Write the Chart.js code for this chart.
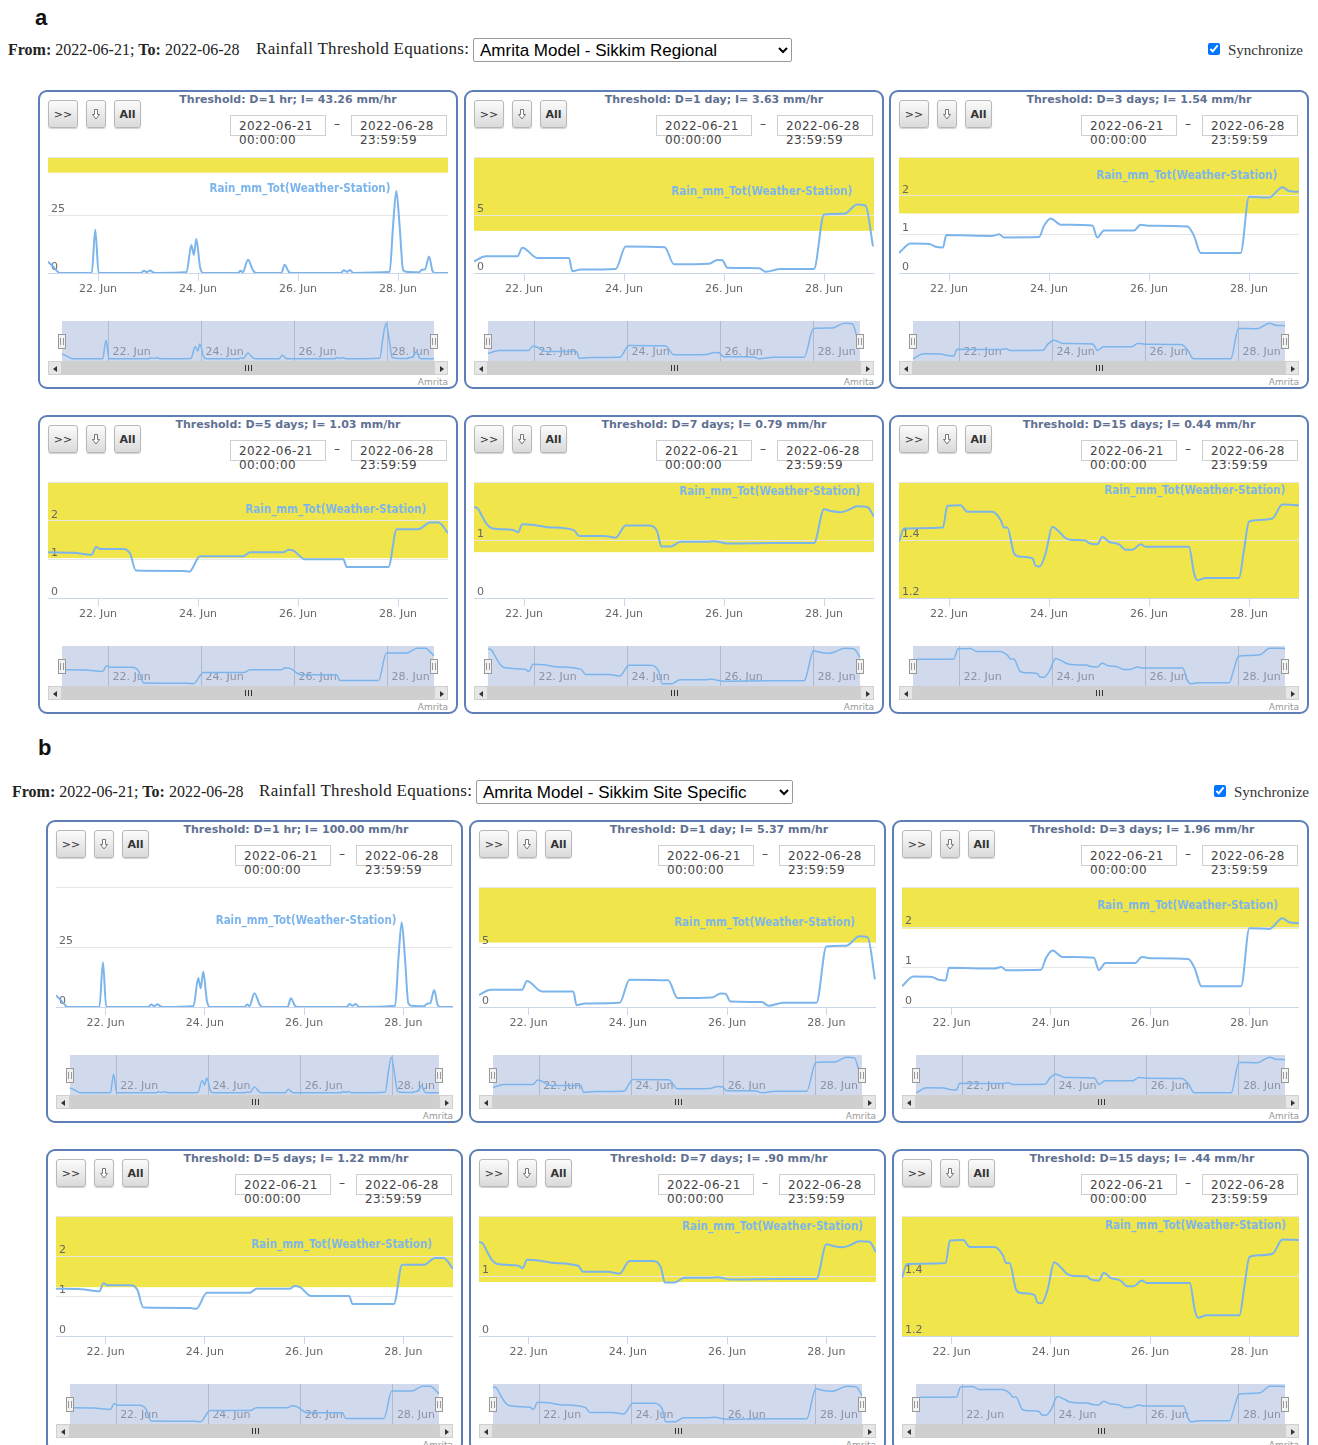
<!DOCTYPE html>
<html>
<head>
<meta charset="utf-8">
<title>Rainfall thresholds</title>
<script src="https://cdn.jsdelivr.net/npm/chart.js@4.4.1/dist/chart.umd.min.js"></script>
<style>
  html, body { margin: 0; padding: 0; background: #fff; }
  body { width: 1318px; height: 1445px; position: relative; overflow: hidden; font-family: "DejaVu Sans", sans-serif; }
  .plabel { position: absolute; font: bold 22px "Liberation Sans", Arial, sans-serif; line-height: 22px; color: #111; }
  .hdr { position: absolute; font: 16px "Liberation Serif", "Times New Roman", serif; line-height: 20px; color: #222; white-space: nowrap; }
  .hdr b { font-weight: bold; }
  .hdr.eqt { font-size: 17px; letter-spacing: 0.3px; }
  select.eq { position: absolute; height: 24px; font: 17px "Liberation Sans", Arial, sans-serif; color: #000; margin: 0; padding: 0 2px; border: 1px solid #9a9a9a; border-radius: 2px; background: #fff; }
  input.sync { position: absolute; margin: 0; width: 12px; height: 12px; }
  .tile { position: absolute; }
  .frame { position: absolute; inset: 0; border: 2px solid #5d7eb6; border-radius: 9px; box-sizing: border-box; }
  .btn { position: absolute; top: 10px; height: 28px; box-sizing: border-box; border: 1px solid #b8b8b8; border-radius: 3px;
         background: linear-gradient(#fbfbfb, #dadada); box-shadow: 0 1px 1px rgba(0,0,0,.18);
         font: 11px "DejaVu Sans", sans-serif; color: #333; display: flex; align-items: center; justify-content: center; }
  .btn.b { font-weight: bold; }
  .title { position: absolute; top: 3px; transform: translateX(-50%); white-space: nowrap; font: bold 11px "DejaVu Sans", sans-serif; line-height: 14px; color: #5f7192; }
  .dbox { position: absolute; top: 25px; width: 96px; height: 21px; box-sizing: border-box; border: 1px solid #cfcfcf; }
  .dbox span { position: absolute; left: 8px; top: 3px; font: 12px "DejaVu Sans", sans-serif; line-height: 14px; color: #444; white-space: pre; letter-spacing: 0.4px; }
  .dash { position: absolute; top: 27px; font: 12px "DejaVu Sans", sans-serif; color: #444; }
  canvas { position: absolute; }
  .sb { position: absolute; height: 14px; background: #efefef; }
  .sb .arr { position: absolute; top: 0; width: 14px; height: 14px; background: #e6e6e6; box-sizing: border-box; border: 1px solid #d0d0d0; }
  .sb .arr i { position: absolute; top: 4px; width: 0; height: 0; border-top: 3px solid transparent; border-bottom: 3px solid transparent; }
  .sb .arr.l i { left: 4px; border-right: 4px solid #333; }
  .sb .arr.r i { left: 5px; border-left: 4px solid #333; }
  .sb .thumb { position: absolute; top: 0; height: 14px; background: #cfcfcf; }
  .sb .thumb i { position: absolute; top: 4px; width: 1px; height: 6px; background: #333; }
  .credit { position: absolute; font: 9px "DejaVu Sans", sans-serif; line-height: 10px; color: #999; }
</style>
</head>
<body>
<script>
// Timeline: x values are hours after 2022-06-21 00:00, through 2022-06-29 00:00.
const dayTickHours = [24, 72, 120, 168];
const dayTickLabels = ['22. Jun', '24. Jun', '26. Jun', '28. Jun'];

const durations = ['1 hr', '1 day', '3 days', '5 days', '7 days', '15 days'];
const regionalIntensity = ['43.26', '3.63', '1.54', '1.03', '0.79', '0.44'];
const siteIntensity = ['100.00', '5.37', '1.96', '1.22', '.90', '.44'];

const yMin = [0, 0, 0, 0, 0, 1.2];
const yMax = [50, 10, 3, 3, 2, 1.6];
const yStep = [25, 5, 1, 1, 1, 0.2];

// Rain_mm_Tot(Weather-Station) aggregated over each duration (mm/hr)
const hours1h = [0, 2, 4, 5.5, 21, 22.7, 24.3, 44.5, 46, 47.5, 49, 50.5, 52, 66.5, 68.8, 70, 71.2, 73, 74.5, 91, 92.5, 93.5, 96, 98.5, 100, 112, 113.6, 115.5, 117, 140.5, 142, 143.5, 145, 146.5, 164, 165.6, 167.2, 168.8, 170.4, 172, 178, 179.5, 181, 182.9, 184.6, 186, 192];
const rain1h = [4.8, 3.2, 1.2, 0, 0, 18.6, 0, 0, 1.0, 0.4, 1.1, 0.3, 0, 0.4, 12.1, 7.8, 14.7, 2.5, 0, 0, 1.0, 0.3, 5.7, 1.0, 0, 0, 3.6, 0.6, 0, 0, 1.2, 0.5, 1.3, 0, 0.5, 20, 35.3, 20, 1.5, 0.5, 0.3, 1.4, 1.6, 7.1, 0.8, 0, 0];

const hours1d = [0, 5.6, 20.8, 23.2, 30.4, 45.6, 47.2, 51.2, 68, 72.8, 91.5, 96, 112.8, 116.8, 119.2, 121.6, 136.8, 140, 147.2, 163.2, 168, 177.6, 184, 188, 191.5];
const rain1d = [1.0, 1.44, 1.44, 2.17, 1.3, 1.3, 0.15, 0.3, 0.35, 2.28, 2.22, 0.75, 0.8, 1.12, 1.1, 0.45, 0.42, 0.1, 0.35, 0.35, 5.05, 5.1, 5.9, 5.8, 2.3];

const hours3d = [0, 5.6, 14.4, 17.6, 21.1, 22.7, 44.8, 48, 50.4, 67.2, 69.6, 72.8, 77.6, 92.8, 95.2, 98.4, 112.8, 116, 120, 138.4, 141.6, 144.8, 164, 168, 177.6, 184, 187.2, 192];
const rain3d = [0.52, 0.76, 0.75, 0.68, 0.66, 0.98, 0.96, 1.0, 0.92, 0.93, 1.22, 1.41, 1.25, 1.23, 0.92, 1.1, 1.1, 1.25, 1.22, 1.2, 0.96, 0.52, 0.52, 1.97, 1.95, 2.22, 2.12, 2.1];

const hours5d = [0, 12.2, 21, 23, 24.9, 36.2, 39.4, 42.2, 65, 67.8, 73, 93.8, 97, 113, 115.4, 118, 123.4, 141.8, 143.4, 163.4, 167.4, 177.8, 183.4, 187.4, 192];
const rain5d = [1.18, 1.17, 1.12, 1.32, 1.27, 1.27, 1.15, 0.71, 0.7, 0.68, 1.08, 1.08, 1.18, 1.18, 1.25, 1.22, 1.0, 1.0, 0.8, 0.8, 1.78, 1.78, 1.95, 1.95, 1.68];

const hours7d = [0, 1.9, 4, 6.4, 8.8, 19.2, 21.1, 23.2, 28.8, 35.2, 48, 50.4, 62.4, 68, 72.8, 84, 88, 89.9, 94.4, 99.2, 112, 115.2, 121.6, 144, 163.2, 168, 171.2, 176, 179.2, 184, 188.8, 192];
const rain7d = [1.57, 1.54, 1.40, 1.26, 1.2, 1.17, 1.13, 1.27, 1.26, 1.22, 1.17, 1.07, 1.07, 1.04, 1.25, 1.25, 1.14, 0.89, 0.89, 0.97, 0.97, 0.98, 0.94, 0.95, 0.95, 1.53, 1.50, 1.48, 1.51, 1.58, 1.57, 1.40];

const hours15d = [0, 2.4, 21.1, 23.2, 29.6, 32.8, 44.8, 48.8, 50.4, 52, 55.2, 57.6, 64, 65.6, 67.5, 70.4, 73.6, 76.8, 80, 83.2, 89.6, 91.2, 95.2, 97.6, 100.8, 105.6, 108.8, 112, 116, 118.4, 139.2, 141.6, 143.2, 147.2, 163.2, 165.6, 168, 172.8, 179.2, 184, 192];
const rain15d = [1.394, 1.44, 1.443, 1.518, 1.52, 1.497, 1.497, 1.469, 1.443, 1.443, 1.354, 1.343, 1.337, 1.311, 1.309, 1.354, 1.446, 1.429, 1.406, 1.4, 1.398, 1.389, 1.385, 1.411, 1.394, 1.385, 1.366, 1.366, 1.385, 1.377, 1.377, 1.286, 1.261, 1.269, 1.269, 1.366, 1.463, 1.469, 1.474, 1.522, 1.52];

const seriesHours = [hours1h, hours1d, hours3d, hours5d, hours7d, hours15d];
const seriesRain = [rain1h, rain1d, rain3d, rain5d, rain7d, rain15d];

const SERIES_NAME = 'Rain_mm_Tot(Weather-Station)';
const LINE = '#7cb5ec';
const BAND = '#f1e54c';
const RANGE_END = 192;

// where each chart's series name sits, as a fraction of its plot area
const labelSpot = [[0.63, 0.28], [0.72, 0.30], [0.72, 0.16], [0.72, 0.24], [0.74, 0.09], [0.74, 0.08]];

const panels = [
  { letter: 'a', letterX: 35, letterY: 7, hdrY: 40, fromX: 8, eqX: 256, selX: 473, selW: 319, selY: 38,
    chkX: 1208, syncX: 1228, option: 'Amrita Model - Sikkim Regional', intensity: regionalIntensity,
    lefts: [38, 464, 889], tops: [90, 415], w: 420, h: 299 },
  { letter: 'b', letterX: 38, letterY: 737, hdrY: 782, fromX: 12, eqX: 259, selX: 476, selW: 317, selY: 780,
    chkX: 1214, syncX: 1234, option: 'Amrita Model - Sikkim Site Specific', intensity: siteIntensity,
    lefts: [46, 469, 892], tops: [820, 1149], w: 417, h: 303 }
];

Chart.defaults.font.family = '"DejaVu Sans", sans-serif';

function add(parent, tag, cls, css, html) {
  const e = document.createElement(tag);
  if (cls) e.className = cls;
  if (css) e.style.cssText = css;
  if (html !== undefined) e.innerHTML = html;
  parent.appendChild(e);
  return e;
}

// yellow plot band from the threshold intensity up to the top of the axis
const bandPlugin = {
  id: 'band',
  beforeDraw(chart, args, opts) {
    const { ctx, chartArea: a, scales: { y } } = chart;
    if (opts.value >= y.max) return;
    const bottom = Math.min(a.bottom, y.getPixelForValue(Math.max(opts.value, y.min)));
    ctx.save();
    ctx.fillStyle = BAND;
    ctx.fillRect(a.left, a.top, a.right - a.left, bottom - a.top);
    ctx.restore();
  }
};

// series name written beside the line
const nameLabelPlugin = {
  id: 'nameLabel',
  afterDatasetsDraw(chart, args, opts) {
    const { ctx, chartArea: a } = chart;
    ctx.save();
    ctx.font = 'bold 11.5px "DejaVu Sans Condensed", "DejaVu Sans", sans-serif';
    ctx.fillStyle = LINE;
    ctx.textAlign = 'center';
    ctx.textBaseline = 'middle';
    ctx.fillText(opts.text, a.left + opts.fx * (a.right - a.left), a.top + opts.fy * (a.bottom - a.top));
    ctx.restore();
  }
};

// navigator: day labels, shaded selected range and its two handles
const navPlugin = {
  id: 'navMask',
  beforeDatasetsDraw(chart, args, opts) {
    const { ctx, chartArea: a, scales: { x } } = chart;
    ctx.save();
    ctx.font = '11px "DejaVu Sans", sans-serif';
    ctx.fillStyle = '#999';
    ctx.textAlign = 'left';
    ctx.textBaseline = 'middle';
    dayTickHours.forEach((h, k) => ctx.fillText(dayTickLabels[k], x.getPixelForValue(h) + 4, a.bottom - 9));
    const x0 = x.getPixelForValue(opts.from), x1 = x.getPixelForValue(opts.to);
    ctx.fillStyle = 'rgba(102,133,194,0.3)';
    ctx.fillRect(x0, a.top, x1 - x0, a.bottom - a.top);
    ctx.restore();
  },
  afterDraw(chart, args, opts) {
    const { ctx, chartArea: a, scales: { x } } = chart;
    const mid = Math.round((a.top + a.bottom) / 2);
    ctx.save();
    [opts.from, opts.to].forEach(v => {
      const px = Math.round(x.getPixelForValue(v));
      ctx.fillStyle = '#f2f2f2';
      ctx.strokeStyle = '#999';
      ctx.lineWidth = 1;
      ctx.fillRect(px - 4, mid - 7, 8, 15);
      ctx.strokeRect(px - 3.5, mid - 6.5, 7, 14);
      ctx.beginPath();
      ctx.moveTo(px - 1.5, mid - 3); ctx.lineTo(px - 1.5, mid + 4);
      ctx.moveTo(px + 1.5, mid - 3); ctx.lineTo(px + 1.5, mid + 4);
      ctx.stroke();
    });
    ctx.restore();
  }
};

function dayTicks(scale) { scale.ticks = dayTickHours.map(v => ({ value: v })); }

const ARROW_SVG = '<svg width="8" height="11" viewBox="0 0 8 11"><path d="M2.5 0.5h3v5h2l-3.5 4.5l-3.5-4.5h2z" fill="#fff" stroke="#777" stroke-width="1"/></svg>';

function buildTile(body, p, i) {
  const col = i % 3, row = Math.floor(i / 3);
  const L = p.lefts[col], T = p.tops[row], W = p.w, H = p.h;
  const plotW = W - 20, plotH = H - 183;
  const navTop = 67 + plotH + 48;
  const tile = add(body, 'div', 'tile', `left:${L}px;top:${T}px;width:${W}px;height:${H}px`);
  add(tile, 'div', 'frame');

  add(tile, 'div', 'btn', 'left:10px;width:30px', '&gt;&gt;');
  add(tile, 'div', 'btn', 'left:48px;width:20px', ARROW_SVG);
  add(tile, 'div', 'btn b', 'left:76px;width:27px', 'All');

  const intensityText = p.intensity[i];
  const threshold = parseFloat(intensityText);
  add(tile, 'div', 'title', 'left:250px', `Threshold: D=${durations[i]}; I= ${intensityText} mm/hr`);

  const box2 = W - 11 - 96, box1 = box2 - 25 - 96;
  add(tile, 'div', 'dbox', `left:${box1}px`, '<span>2022-06-21\n00:00:00</span>');
  add(tile, 'div', 'dash', `left:${box1 + 104}px`, '&ndash;');
  add(tile, 'div', 'dbox', `left:${box2}px`, '<span>2022-06-28\n23:59:59</span>');

  const points = seriesHours[i].map((h, k) => ({ x: h, y: seriesRain[i][k] }));
  const lo = yMin[i], hi = yMax[i];

  // main chart
  const cv = add(tile, 'canvas', '', `left:10px;top:67px`);
  cv.width = plotW; cv.height = plotH + 30;
  new Chart(cv, {
    type: 'line',
    data: { datasets: [{ data: points, borderColor: LINE, borderWidth: 2, pointRadius: 0, cubicInterpolationMode: 'monotone', fill: false }] },
    options: {
      responsive: false, animation: false, events: [],
      layout: { padding: 0 },
      plugins: {
        legend: { display: false }, tooltip: { enabled: false },
        band: { value: threshold },
        nameLabel: { text: SERIES_NAME, fx: labelSpot[i][0], fy: labelSpot[i][1] }
      },
      scales: {
        x: {
          type: 'linear', min: 0, max: RANGE_END,
          afterFit: s => { s.height = 30; s.paddingLeft = 0; s.paddingRight = 0; },
          afterBuildTicks: dayTicks,
          grid: { drawOnChartArea: false, drawTicks: true, tickLength: 8, color: '#ccd6eb' },
          border: { display: true, color: '#ccd6eb' },
          ticks: { padding: 2, color: '#666', font: { size: 11 }, maxRotation: 0, autoSkip: false,
                   callback: (v, k) => dayTickLabels[k] }
        },
        y: {
          min: lo, max: hi,
          afterFit: s => { s.width = 0; s.paddingTop = 0; s.paddingBottom = 0; },
          grid: { color: '#e6e6e6', drawTicks: false },
          border: { display: false },
          ticks: { stepSize: yStep[i], mirror: true, padding: 3, labelOffset: -6, color: '#666', font: { size: 11 },
                   callback: v => (Math.abs(v - hi) < 1e-9 ? '' : String(+v.toFixed(3))) }
        }
      }
    },
    plugins: [bandPlugin, nameLabelPlugin]
  });

  // navigator
  const nv = add(tile, 'canvas', '', `left:10px;top:${navTop}px`);
  nv.width = plotW; nv.height = 40;
  const inset = 14;
  const padH = inset / (plotW - 2 * inset) * RANGE_END;
  const vals = seriesRain[i];
  const vMin = Math.min(...vals), vMax = Math.max(...vals);
  const vPad = (vMax - vMin) * 0.06;
  new Chart(nv, {
    type: 'line',
    data: { datasets: [{ data: points, borderColor: LINE, borderWidth: 1.5, pointRadius: 0, cubicInterpolationMode: 'monotone', fill: false }] },
    options: {
      responsive: false, animation: false, events: [],
      layout: { padding: 0 },
      plugins: { legend: { display: false }, tooltip: { enabled: false }, navMask: { from: 0, to: RANGE_END } },
      scales: {
        x: {
          type: 'linear', min: -padH, max: RANGE_END + padH,
          afterFit: s => { s.height = 0; s.paddingLeft = 0; s.paddingRight = 0; },
          afterBuildTicks: dayTicks,
          grid: { drawOnChartArea: true, drawTicks: false, color: '#d2d2d2' },
          border: { display: false },
          ticks: { display: false }
        },
        y: { display: false, min: vMin - vPad, max: vMax + vPad }
      }
    },
    plugins: [navPlugin]
  });

  // scrollbar
  const sb = add(tile, 'div', 'sb', `left:10px;top:${navTop + 40}px;width:${plotW}px`);
  add(sb, 'div', 'arr l', 'left:0', '<i></i>');
  add(sb, 'div', 'arr r', 'right:0', '<i></i>');
  const th = add(sb, 'div', 'thumb', `left:${inset}px;width:${plotW - 2 * inset}px`);
  const c = Math.round((plotW - 2 * inset) / 2);
  [-3, 0, 3].forEach(d => add(th, 'i', '', `left:${c + d}px`));

  add(tile, 'div', 'credit', `right:10px;top:${navTop + 56}px`, 'Amrita');
}

panels.forEach(p => {
  const body = document.body;
  add(body, 'div', 'plabel', `left:${p.letterX}px;top:${p.letterY}px`, p.letter);
  add(body, 'div', 'hdr', `left:${p.fromX}px;top:${p.hdrY}px`, '<b>From:</b> 2022-06-21; <b>To:</b> 2022-06-28');
  add(body, 'div', 'hdr eqt', `left:${p.eqX}px;top:${p.hdrY - 1}px`, 'Rainfall Threshold Equations:');
  const sel = add(body, 'select', 'eq', `left:${p.selX}px;top:${p.selY}px;width:${p.selW}px`);
  add(sel, 'option', '', '', p.option);
  const chk = add(body, 'input', 'sync', `left:${p.chkX}px;top:${p.hdrY + 3}px`);
  chk.type = 'checkbox'; chk.checked = true;
  add(body, 'div', 'hdr', `left:${p.syncX}px;top:${p.hdrY}px;font-size:15px;color:#333`, 'Synchronize');
  for (let i = 0; i < 6; i++) buildTile(body, p, i);
});
</script>
</body>
</html>
